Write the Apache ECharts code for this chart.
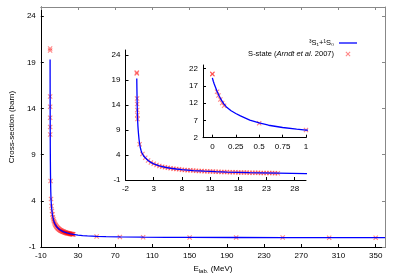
<!DOCTYPE html>
<html><head><meta charset="utf-8">
<script src="https://cdn.jsdelivr.net/npm/echarts@6/dist/echarts.min.js"></script>
<style>html,body{margin:0;padding:0;background:#fff}#c{width:400px;height:280px}</style>
</head><body><div id="c"></div>
<script>
// Model curve 3S1+1S0 (E_lab in MeV, cross-section in barn)
const curveE = [0, 0.01, 0.02, 0.03, 0.05, 0.075, 0.1, 0.125, 0.15, 0.2, 0.25, 0.3, 0.4, 0.5, 0.6, 0.75, 0.9, 1, 1.25, 1.5, 2, 2.5, 3, 4, 5, 6, 7, 8, 10, 12, 14, 16, 18, 20, 22, 25, 30, 35, 40, 50, 60, 75, 100, 125, 150, 200, 250, 300, 350, 360];
const curveSigma = [19.3, 18.3, 17.5, 16.8, 15.4, 13.9, 12.7, 11.7, 10.9, 9.8, 9.0, 8.3, 7.1, 6.25, 5.6, 4.95, 4.45, 4.2, 3.75, 3.4, 2.9, 2.52, 2.23, 1.82, 1.55, 1.35, 1.2, 1.07, 0.89, 0.76, 0.66, 0.58, 0.52, 0.46, 0.42, 0.36, 0.29, 0.24, 0.2, 0.15, 0.12, 0.09, 0.06, 0.05, 0.04, 0.03, 0.02, 0.01, 0.01, 0.01];
// S-state data (Arndt et al. 2007)
const dataE = [0, 0.0001, 0.05, 0.065, 0.085, 0.105, 0.125, 0.5, 1,
  1.5, 2, 2.5, 3, 3.5, 4, 4.5, 5, 5.5, 6, 6.5, 7, 7.5, 8, 8.5, 9, 9.5, 10, 10.5, 11, 11.5, 12, 12.5, 13, 13.5, 14, 14.5, 15, 15.5, 16, 16.5, 17, 17.5, 18, 18.5, 19, 19.5, 20, 20.5, 21, 21.5, 22, 22.5, 23, 23.5, 24, 24.5, 25,
  50, 75, 100, 150, 200, 250, 300, 350];
const dataSigma = [20.5, 20.3, 15.3, 14.2, 13.0, 12.0, 11.2, 6.15, 4.2,
  3.45, 2.90, 2.52, 2.23, 2.00, 1.82, 1.67, 1.55, 1.44, 1.35, 1.27, 1.20, 1.13, 1.07, 1.02, 0.97, 0.93, 0.89, 0.85, 0.82, 0.79, 0.76, 0.73, 0.70, 0.68, 0.66, 0.64, 0.62, 0.60, 0.58, 0.56, 0.55, 0.53, 0.52, 0.50, 0.49, 0.48, 0.46, 0.45, 0.44, 0.43, 0.42, 0.41, 0.40, 0.39, 0.38, 0.37, 0.36,
  0.13, 0.09, 0.06, 0.04, 0.03, 0.02, 0.01, 0.01];
const inset2XTicks = [0, 0.25, 0.5, 0.75, 1];
const seriesNames = ['³S₁+¹S₀', 'S-state (Arndt et al. 2007)'];

const curve = curveE.map((e, i) => [e, curveSigma[i]]);
const pts = dataE.map((e, i) => [e, dataSigma[i]]);

const FONT = 'Liberation Sans, Arial, sans-serif';
const FS = 8;
const XSYM = 'path://M0,1.5L1.5,0L5,3.5L8.5,0L10,1.5L6.5,5L10,8.5L8.5,10L5,6.5L1.5,10L0,8.5L3.5,5Z';
const LINEICON = 'path://M0,0L36,0L36,2.6L0,2.6Z';

function valAxis(o) {
  return Object.assign({
    type: 'value',
    splitLine: { show: false },
    axisLine: { show: true, onZero: false, lineStyle: { color: '#000', width: 1 } },
    axisTick: { show: true, inside: true, length: 3, lineStyle: { color: '#000' } },
    axisLabel: { show: true, color: '#000', fontSize: FS, fontFamily: FONT, margin: 5, showMaxLabel: false }
  }, o);
}
function mirror(o) {
  return Object.assign({
    type: 'value',
    splitLine: { show: false },
    axisLine: { show: true, onZero: false, lineStyle: { color: '#888', width: 1 } },
    axisTick: { show: true, inside: true, length: 3, lineStyle: { color: '#888' } },
    axisLabel: { show: false }
  }, o);
}

const chart = echarts.init(document.getElementById('c'), null, { renderer: 'canvas' });
chart.setOption({
  animation: false,
  backgroundColor: '#fff',
  textStyle: { fontFamily: FONT },
  grid: [
    { left: 33, top: 7, width: 352, height: 240 },
    { left: 125.5, top: 50, width: 180.5, height: 130 },
    { left: 203, top: 65, width: 103, height: 72.7 }
  ],
  xAxis: [
    valAxis({ gridIndex: 0, min: -10, max: 360, interval: 40, position: 'bottom',
      name: '{e|E}{s|lab.}{e| (MeV)}', nameLocation: 'middle', nameGap: 14,
      nameTextStyle: { rich: { e: { fontSize: FS, fontFamily: FONT, color: '#000' }, s: { fontSize: 6, fontFamily: FONT, color: '#000', padding: [5, 0, 0, 0] } } } }),
    mirror({ gridIndex: 0, min: -10, max: 360, interval: 40, position: 'top' }),
    valAxis({ gridIndex: 1, min: -2, max: 30, interval: 5, position: 'bottom' }),
    valAxis({ gridIndex: 2, min: -0.1, max: 1, position: 'bottom',
      axisTick: { show: true, inside: true, length: 3, lineStyle: { color: '#000' }, customValues: inset2XTicks },
      axisLabel: { show: true, color: '#000', fontSize: FS, fontFamily: FONT, margin: 5, customValues: inset2XTicks } })
  ],
  yAxis: [
    valAxis({ gridIndex: 0, min: -1, max: 25, interval: 5, position: 'left',
      name: 'Cross-section (barn)', nameLocation: 'middle', nameGap: 20,
      nameTextStyle: { fontSize: FS, fontFamily: FONT, color: '#000' } }),
    mirror({ gridIndex: 0, min: -1, max: 25, interval: 5, position: 'right' }),
    valAxis({ gridIndex: 1, min: -1, max: 25, interval: 5, position: 'left' }),
    valAxis({ gridIndex: 2, min: 2, max: 23, interval: 5, position: 'left' })
  ],
  legend: {
    orient: 'vertical', right: 38, top: 34, align: 'right',
    itemWidth: 18, itemHeight: 5, itemGap: 3,
    data: [
      { name: seriesNames[0], icon: LINEICON, itemStyle: { color: '#0000ff' } },
      { name: seriesNames[1], icon: XSYM, itemStyle: { color: 'rgba(255,0,0,0.6)' } }
    ],
    formatter: n => n === seriesNames[1] ? 'S-state ({i|Arndt et al.} 2007)' : n,
    textStyle: { fontSize: 7.5, fontFamily: FONT, color: '#000',
      rich: { i: { fontStyle: 'italic', fontSize: 7.5, fontFamily: FONT, color: '#000' } } }
  },
  series: [0, 1, 2].flatMap(g => [
    { name: seriesNames[0], type: 'line', xAxisIndex: g === 0 ? 0 : g + 1, yAxisIndex: g === 0 ? 0 : g + 1,
      data: curve, symbol: 'none', smooth: false, clip: true, z: 3,
      lineStyle: { color: '#0000ff', width: 1.3 }, itemStyle: { color: '#0000ff' } },
    { name: seriesNames[1], type: 'scatter', xAxisIndex: g === 0 ? 0 : g + 1, yAxisIndex: g === 0 ? 0 : g + 1,
      data: pts, symbol: XSYM, symbolSize: 5, clip: true, z: 2,
      itemStyle: { color: 'rgba(255,0,0,0.6)' } }
  ])
});
</script>
</body></html>
